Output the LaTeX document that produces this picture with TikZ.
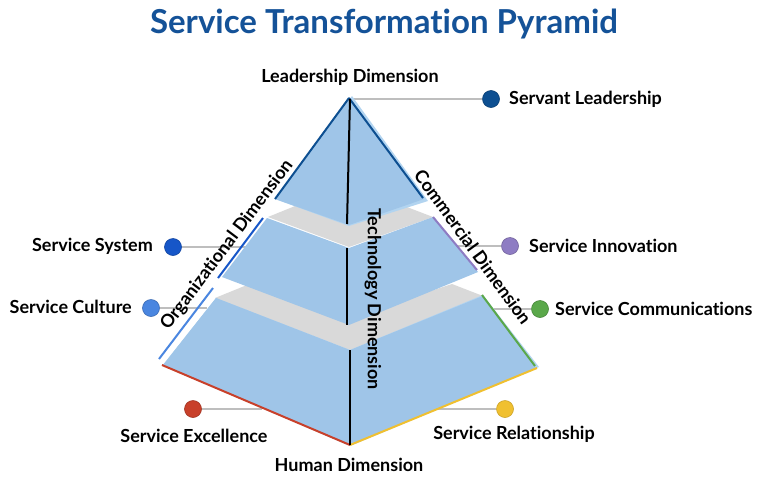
\documentclass[tikz,border=0pt]{standalone}
\usepackage{fontspec}
\setmainfont{Lato}[Ligatures=NoCommon]
\definecolor{pyrBlue}{RGB}{159,197,232}
\definecolor{shadeBlue}{RGB}{178,212,240}
\definecolor{bandGray}{RGB}{217,217,217}
\definecolor{lineGray}{RGB}{190,190,190}
\definecolor{titleBlue}{RGB}{20,82,152}
\definecolor{darkBlue}{RGB}{13,79,145}
\definecolor{midBlue}{RGB}{22,86,200}
\definecolor{lightBlue}{RGB}{74,134,224}
\definecolor{purpleC}{RGB}{142,124,195}
\definecolor{greenC}{RGB}{90,168,74}
\definecolor{redC}{RGB}{200,64,42}
\definecolor{yellowC}{RGB}{240,192,48}
\begin{document}
\begin{tikzpicture}[x=1pt,y=-1pt,
  lbl/.style={font=\bfseries\fontsize{18}{21}\selectfont, text=black, inner sep=0pt},
  dot/.style={circle, inner sep=0pt, minimum size=17pt, line width=0.6pt},
  conn/.style={draw=lineGray, line width=1.6pt},
  edgeline/.style={line width=2pt},
  midline/.style={draw=black, line width=2pt},
]
\useasboundingbox[fill=white] (0,0) rectangle (768,477);

% title
\node[font=\bfseries\fontsize{33}{38}\selectfont, text=titleBlue] (title) at (384,24) {Service Transformation Pyramid};

% dots
\node[dot, fill=darkBlue, draw=darkBlue!80!black] (dServ) at (491,99) {};
\node[dot, fill=midBlue, draw=midBlue!80!black] (dSys) at (173,247) {};
\node[dot, fill=lightBlue, draw=lightBlue!80!black] (dCult) at (151,308) {};
\node[dot, fill=purpleC, draw=purpleC!80!black] (dInno) at (510,246) {};
\node[dot, fill=greenC, draw=greenC!80!black] (dComm) at (540,309) {};
\node[dot, fill=redC, draw=redC!80!black] (dExc) at (193,409) {};
\node[dot, fill=yellowC, draw=yellowC!85!black] (dRel) at (505,409) {};

% connector ends
\coordinate (apex) at (350,99);
\coordinate (eSys) at (246,247);
\coordinate (eCult) at (207,308);
\coordinate (eInno) at (458,246);
\coordinate (eComm) at (494,309);
\coordinate (eExc) at (262,409);
\coordinate (eRel) at (437,409);

\draw[conn] (apex) -- (dServ);
\draw[conn] (dSys) -- (eSys);
\draw[conn] (dCult) -- (eCult);
\draw[conn] (dInno) -- (eInno);
\draw[conn] (dComm) -- (eComm);
\draw[conn] (dExc) -- (eExc);
\draw[conn] (dRel) -- (eRel);

% tier 3
\fill[bandGray] (215,298) -- (247,285) -- (349,318) -- (452,284) -- (483,296) -- (350,350) -- cycle;
\fill[shadeBlue] (483,295) -- (539,367) -- (350,446) -- (163,365) -- (216,298) -- (350,350) -- cycle;
\fill[pyrBlue] (216,298) -- (163,365) -- (350,445) -- (536,368) -- (483,296) -- (350,350) -- cycle;

% tier 2
\fill[bandGray] (268,217) -- (300,204) -- (349,222) -- (399,204) -- (433,217) -- (349,247) -- cycle;
\fill[pyrBlue] (267,218) -- (222,277) -- (349,325) -- (478,272) -- (433,217) -- (349,248) -- cycle;

% tier 1
\fill[shadeBlue] (352,96) -- (428,201) -- (349,226) -- (275,199) -- cycle;
\fill[pyrBlue] (349,97) -- (424,199) -- (349,225) -- (275,199) -- cycle;

% coloured edges
\draw[edgeline, darkBlue] (349,98) -- (275,199);
\draw[edgeline, darkBlue] (349,98) -- (423,198);
\draw[edgeline, midBlue] (263,218) -- (218,278);
\draw[edgeline, purpleC] (433,217) -- (477,270);
\draw[edgeline, lightBlue] (213,288) -- (159,359);
\draw[edgeline, greenC] (482,295) -- (535,366);
\draw[edgeline, redC] (162,365) -- (350,445);
\draw[edgeline, yellowC] (350,445) -- (537,368);

% centre lines
\draw[midline] (350,99) -- (347,224);
\draw[midline] (347,248) -- (347,325);
\draw[midline] (350,350) -- (350,445);

% dimension labels
\node[lbl] (lead) at (350,77) {Leadership Dimension};
\node[lbl] (human) at (349,465) {Human Dimension};
\node[lbl, rotate=53] (org) at (227,245) {Organizational Dimension};
\node[lbl, rotate=-54] (com) at (473,247) {Commercial Dimension};
\node[lbl, rotate=-90] (tech) at (373,299) {Technology Dimension};

% item labels
\node[lbl, anchor=west] (tServ) at (509,99) {Servant Leadership};
\node[lbl, anchor=east] (tSys) at (153,246) {Service System};
\node[lbl, anchor=east] (tCult) at (132,307) {Service Culture};
\node[lbl, anchor=west] (tInno) at (529,246) {Service Innovation};
\node[lbl, anchor=west] (tComm) at (555,309) {Service Communications};
\node[lbl] (tExc) at (194,436) {Service Excellence};
\node[lbl] (tRel) at (514,434) {Service Relationship};
\end{tikzpicture}
\end{document}
